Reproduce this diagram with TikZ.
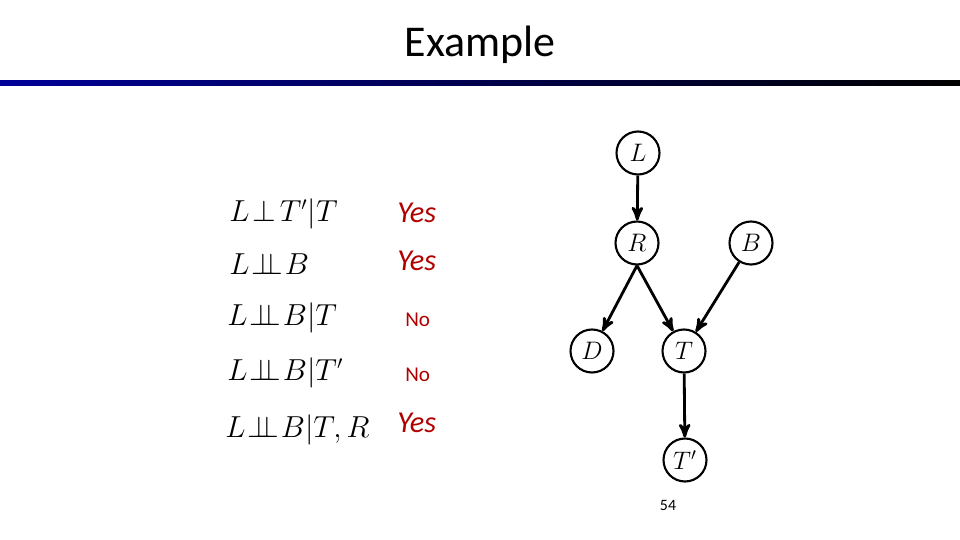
\documentclass[tikz,border=0pt]{standalone}
\usepackage{fontspec}
\setsansfont{Carlito}
\usepackage{amsmath}
\usetikzlibrary{arrows, positioning}
\colorlet{colorAnswer}{red!70!black}
\newcommand{\indep}{\mathbin{\!\perp\!\!\!\perp\!}}
\begin{document}
\begin{tikzpicture}[x=0.02cm, y=-0.02cm, >=stealth', line width=1.6pt,
  var/.style={circle, draw, line width=1.2pt, minimum size=0.86cm, inner sep=0pt, font=\Large},
  formula/.style={anchor=west, font=\fontsize{16.3}{20}\selectfont},
  answer/.style={anchor=west, text=colorAnswer, font=\sffamily\LARGE}]
\useasboundingbox (0,0) rectangle (960,540);
\node[font=\sffamily\fontsize{25}{29}\selectfont] (title) at (480,45) {Example};
\shade[left color=blue!60!black, right color=black] (0,81) rectangle (960,86);
% network
\node[var] (L) at (638,153) {$L$};
\node[var] (R) at (637,243) {$R$};
\node[var] (B) at (751,243) {$B$};
\node[var] (D) at (592,351) {$D$};
\node[var] (T) at (684,351) {$T$};
\node[var] (Tp) at (685,460) {$T'$};
\draw[->] (L) -- (R);
\draw[->] (R.south) -- (D);
\draw[->] (R.south) -- (T);
\draw[->] (B) -- (T);
\draw[->] (T) -- (Tp);
% queries
\node[formula] (q1) at (222,214) {$L \!\perp\! T'|T$};
\node[formula] (q2) at (222,264) {$L \indep B$};
\node[formula] (q3) at (220,318) {$L \indep B|T$};
\node[formula] (q4) at (220,373) {$L \indep B|T'$};
\node[formula] (q5) at (218,430) {$L \indep B|T, R$};
\node[answer] (a1) at (390,213) {\textit{Yes}};
\node[answer] (a2) at (390,261) {\textit{Yes}};
\node[answer, font=\sffamily\large] (a3) at (398,320) {No};
\node[answer, font=\sffamily\large] (a4) at (398,375) {No};
\node[answer] (a5) at (390,423) {\textit{Yes}};
\node[font=\sffamily\small] (page) at (668,505) {54};
\end{tikzpicture}
\end{document}
